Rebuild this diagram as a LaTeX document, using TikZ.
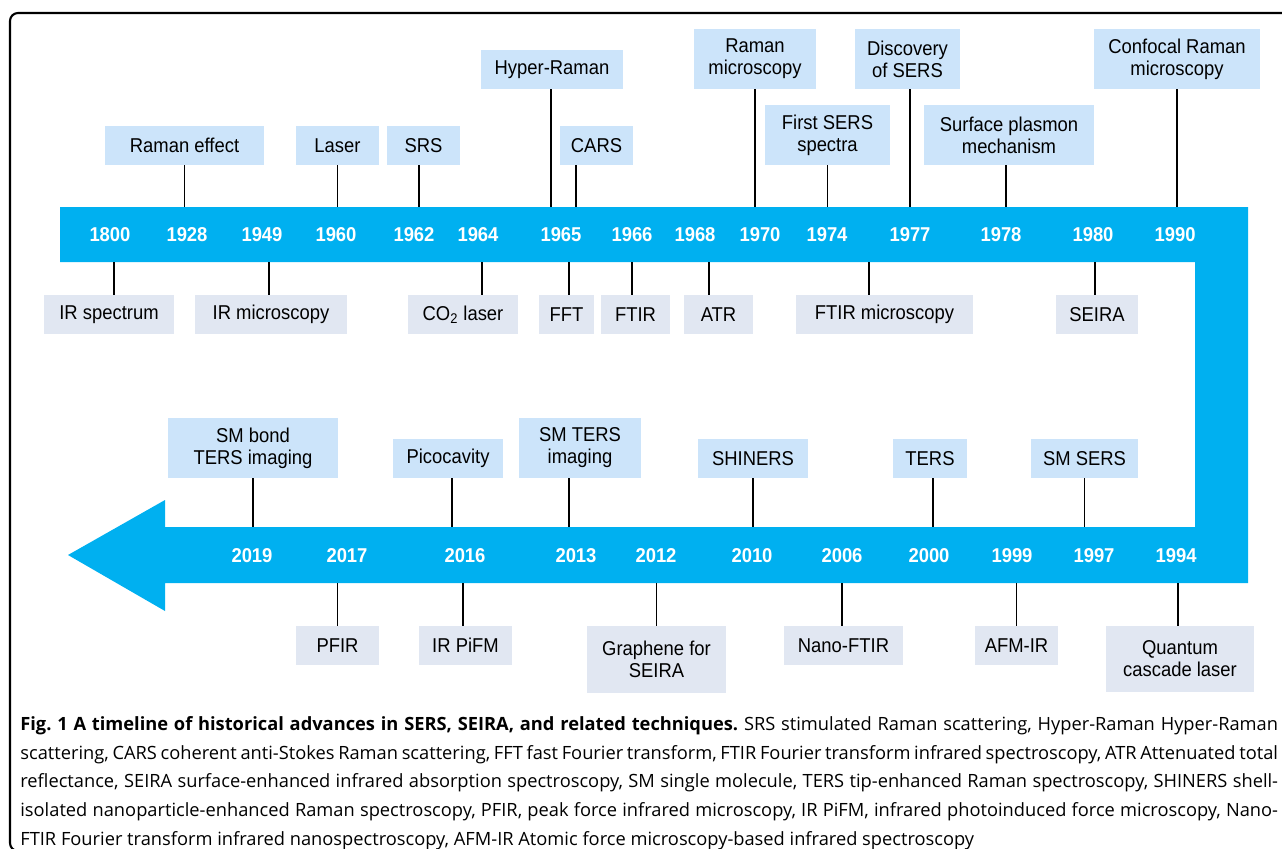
\documentclass[tikz,border=0pt]{standalone}
\usepackage{fontspec}
\usetikzlibrary{calc}
\newfontfamily\labelfont{Liberation Sans}[FakeStretch=0.92]
\newfontfamily\capfont{Open Sans}
\definecolor{bandblue}{RGB}{0,176,240}
\definecolor{upblue}{RGB}{204,228,250}
\definecolor{downgrey}{RGB}{225,231,242}

\begin{document}
\begin{tikzpicture}[
    x=0.02cm, y=-0.02cm,
    every node/.style={font=\labelfont\fontsize{11.4}{12.6}\selectfont, inner sep=0pt},
    upbox/.style={fill=upblue, align=center, minimum height=0.78cm},
    downbox/.style={fill=downgrey, align=center, minimum height=0.78cm},
    year/.style={text=white, font=\labelfont\bfseries\fontsize{11.4}{12.6}\selectfont},
    tick/.style={line width=0.7pt, black},
    frame/.style={line width=1.2pt, rounded corners=0.16cm},
    caption/.style={font=\capfont\fontsize{10.4}{16.4}\selectfont\frenchspacing, text width=25.16cm, align=justify, anchor=north west}
]
\useasboundingbox (0,0) rectangle (1282,849);
\begin{scope}
\clip (0,0) rectangle (1282,849);
\draw[frame] (1300,13) -- (10,13) -- (10,851) -- (1300,851);
\end{scope}

% the bent timeline band
\fill[bandblue] (60,207) -- (1248,207) -- (1248,583) -- (165,583) -- (165,611) -- (68,555)
    -- (165,500) -- (165,527) -- (1195,527) -- (1195,262) -- (60,262) -- cycle;
\coordinate (upper1) at (0,207);
\coordinate (lower1) at (0,262);
\coordinate (upper2) at (0,527);
\coordinate (lower2) at (0,583);

% years, first row
\node[year] (y1800) at (110,234.5) {1800};
\node[year] (y1928) at (187,234.5) {1928};
\node[year] (y1949) at (262,234.5) {1949};
\node[year] (y1960) at (336,234.5) {1960};
\node[year] (y1962) at (414,234.5) {1962};
\node[year] (y1964) at (478,234.5) {1964};
\node[year] (y1965) at (561,234.5) {1965};
\node[year] (y1966) at (632,234.5) {1966};
\node[year] (y1968) at (695,234.5) {1968};
\node[year] (y1970) at (760,234.5) {1970};
\node[year] (y1974) at (827,234.5) {1974};
\node[year] (y1977) at (910,234.5) {1977};
\node[year] (y1978) at (1001,234.5) {1978};
\node[year] (y1980) at (1093,234.5) {1980};
\node[year] (y1990) at (1175,234.5) {1990};

% years, second row
\node[year] (y2019) at (252,556) {2019};
\node[year] (y2017) at (347,556) {2017};
\node[year] (y2016) at (465,556) {2016};
\node[year] (y2013) at (576,556) {2013};
\node[year] (y2012) at (656,556) {2012};
\node[year] (y2010) at (752,556) {2010};
\node[year] (y2006) at (842,556) {2006};
\node[year] (y2000) at (929,556) {2000};
\node[year] (y1999) at (1012,556) {1999};
\node[year] (y1997) at (1094,556) {1997};
\node[year] (y1994) at (1176,556) {1994};

% above the first row
\node[upbox, minimum width=3.18cm] (ramaneffect) at (184.5,145.5) {Raman effect};
\node[upbox, minimum width=1.66cm] (laser) at (337.5,145.5) {Laser};
\node[upbox, minimum width=1.46cm] (srs) at (423.5,145.5) {SRS};
\node[upbox, minimum width=2.84cm] (hyperraman) at (552,69.5) {Hyper-Raman};
\node[upbox, minimum width=1.46cm] (cars) at (596.5,145.5) {CARS};
\node[upbox, minimum width=2.44cm, minimum height=1.2cm] (ramanmicro) at (755,59) {Raman\\microscopy};
\node[upbox, minimum width=2.5cm, minimum height=1.2cm] (firstsers) at (827.5,135) {First SERS\\spectra};
\node[upbox, minimum width=2.1cm, minimum height=1.2cm] (discovery) at (907.5,59) {Discovery\\of SERS};
\node[upbox, minimum width=3.4cm, minimum height=1.2cm] (plasmon) at (1009,135) {Surface plasmon\\mechanism};
\node[upbox, minimum width=3.32cm, minimum height=1.2cm] (confocal) at (1177,59) {Confocal Raman\\microscopy};

% below the first row
\node[downbox, minimum width=2.6cm] (irspec) at (109,314.5) {IR spectrum};
\node[downbox, minimum width=3.04cm] (irmicro) at (271,314.5) {IR microscopy};
\node[downbox, minimum width=2.2cm] (cotwo) at (463,314.5) {CO\textsubscript{2} laser};
\node[downbox, minimum width=1.1cm] (fft) at (566.5,314.5) {FFT};
\node[downbox, minimum width=1.38cm] (ftir) at (635.5,314.5) {FTIR};
\node[downbox, minimum width=1.38cm] (atr) at (718.5,314.5) {ATR};
\node[downbox, minimum width=3.54cm] (ftirmicro) at (884.5,314.5) {FTIR microscopy};
\node[downbox, minimum width=1.64cm] (seira) at (1097,314.5) {SEIRA};

% above the second row
\node[upbox, minimum width=3.4cm, minimum height=1.2cm] (smbond) at (253,448) {SM bond\\TERS imaging};
\node[upbox, minimum width=2.2cm] (picocavity) at (448,458.5) {Picocavity};
\node[upbox, minimum width=2.44cm, minimum height=1.2cm] (smters) at (580,448) {SM TERS\\imaging};
\node[upbox, minimum width=2.2cm] (shiners) at (753,458.5) {SHINERS};
\node[upbox, minimum width=1.48cm] (ters) at (930,458.5) {TERS};
\node[upbox, minimum width=2.14cm] (smsers) at (1084.5,458.5) {SM SERS};

% below the second row
\node[downbox, minimum width=1.66cm] (pfir) at (337.5,645.5) {PFIR};
\node[downbox, minimum width=1.86cm] (irpifm) at (465.5,645.5) {IR PiFM};
\node[downbox, minimum width=2.78cm, minimum height=1.34cm] (graphene) at (656.5,659.5) {Graphene for\\SEIRA};
\node[downbox, minimum width=2.38cm] (nanoftir) at (843.5,645.5) {Nano-FTIR};
\node[downbox, minimum width=1.66cm] (afmir) at (1016.5,645.5) {AFM-IR};
\node[downbox, minimum width=2.96cm, minimum height=1.32cm] (quantum) at (1180,659) {Quantum\\cascade laser};

% ticks to the band
\draw[tick] (ramaneffect.south) -- (ramaneffect.south |- upper1);
\draw[tick] (laser.south) -- (laser.south |- upper1);
\draw[tick] ($(srs.south)+(-4.5,0)$) -- ($(srs.south |- upper1)+(-4.5,0)$);
\draw[tick] ($(hyperraman.south)+(-1,0)$) -- ($(hyperraman.south |- upper1)+(-1,0)$);
\draw[tick] ($(cars.south)+(-20.5,0)$) -- ($(cars.south |- upper1)+(-20.5,0)$);
\draw[tick] (ramanmicro.south) -- (ramanmicro.south |- upper1);
\draw[tick] (firstsers.south) -- (firstsers.south |- upper1);
\draw[tick] ($(discovery.south)+(2.5,0)$) -- ($(discovery.south |- upper1)+(2.5,0)$);
\draw[tick] ($(plasmon.south)+(-3,0)$) -- ($(plasmon.south |- upper1)+(-3,0)$);
\draw[tick] (confocal.south) -- (confocal.south |- upper1);
\draw[tick] ($(irspec.north)+(5,0)$) -- ($(irspec.north |- lower1)+(5,0)$);
\draw[tick] ($(irmicro.north)+(-2,0)$) -- ($(irmicro.north |- lower1)+(-2,0)$);
\draw[tick] ($(cotwo.north)+(19,0)$) -- ($(cotwo.north |- lower1)+(19,0)$);
\draw[tick] ($(fft.north)+(2.5,0)$) -- ($(fft.north |- lower1)+(2.5,0)$);
\draw[tick] ($(ftir.north)+(-3.5,0)$) -- ($(ftir.north |- lower1)+(-3.5,0)$);
\draw[tick] ($(atr.north)+(-9.5,0)$) -- ($(atr.north |- lower1)+(-9.5,0)$);
\draw[tick] ($(ftirmicro.north)+(-15.5,0)$) -- ($(ftirmicro.north |- lower1)+(-15.5,0)$);
\draw[tick] ($(seira.north)+(-2,0)$) -- ($(seira.north |- lower1)+(-2,0)$);
\draw[tick] (smbond.south) -- (smbond.south |- upper2);
\draw[tick] ($(picocavity.south)+(4,0)$) -- ($(picocavity.south |- upper2)+(4,0)$);
\draw[tick] ($(smters.south)+(-11,0)$) -- ($(smters.south |- upper2)+(-11,0)$);
\draw[tick] (shiners.south) -- (shiners.south |- upper2);
\draw[tick] ($(ters.south)+(3,0)$) -- ($(ters.south |- upper2)+(3,0)$);
\draw[tick] (smsers.south) -- (smsers.south |- upper2);
\draw[tick] (pfir.north) -- (pfir.north |- lower2);
\draw[tick] ($(irpifm.north)+(-2.5,0)$) -- ($(irpifm.north |- lower2)+(-2.5,0)$);
\draw[tick] (graphene.north) -- (graphene.north |- lower2);
\draw[tick] ($(nanoftir.north)+(-1.5,0)$) -- ($(nanoftir.north |- lower2)+(-1.5,0)$);
\draw[tick] (afmir.north) -- (afmir.north |- lower2);
\draw[tick] ($(quantum.north)+(-2,0)$) -- ($(quantum.north |- lower2)+(-2,0)$);

% caption
\node[caption] (caption) at (20,716) {\textbf{Fig. 1 A timeline of historical advances in SERS, SEIRA, and related techniques.} SRS stimulated Raman scattering, Hyper-Raman Hyper-Raman\linebreak
scattering, CARS coherent anti-Stokes Raman scattering, FFT fast Fourier transform, FTIR Fourier transform infrared spectroscopy, ATR Attenuated total\linebreak
reflectance, SEIRA surface-enhanced infrared absorption spectroscopy, SM single molecule, TERS tip-enhanced Raman spectroscopy, SHINERS shell-\linebreak
isolated nanoparticle-enhanced Raman spectroscopy, PFIR, peak force infrared microscopy, IR PiFM, infrared photoinduced force microscopy, Nano-\linebreak
FTIR Fourier transform infrared nanospectroscopy, AFM-IR Atomic force microscopy-based infrared spectroscopy};
\end{tikzpicture}
\end{document}
